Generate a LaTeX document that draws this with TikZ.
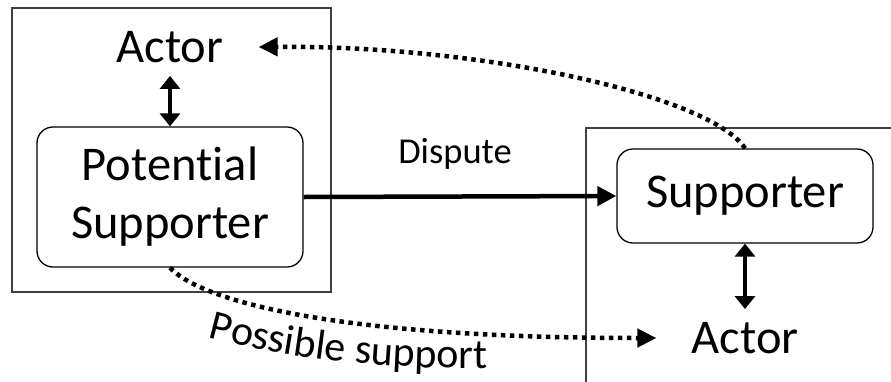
\documentclass[tikz,border=0pt]{standalone}
\usepackage{fontspec}
\setmainfont{Carlito}[Ligatures=CommonOff]
\usetikzlibrary{arrows.meta,decorations.text}

\newcommand\bigfont{\fontsize{48.5}{58}\selectfont}
\newcommand\midfont{\fontsize{36.5}{44}\selectfont}
\newcommand\possfont{\fontsize{42}{50}\selectfont}

\tikzset{
  frame/.style={draw=black!75, line width=1.6pt},
  agent/.style={draw, rounded corners=16pt, line width=1.3pt, align=center, font=\bigfont},
  actor/.style={font=\bigfont, inner xsep=35pt, inner ysep=13pt},
  twoway/.style={{Triangle[length=13pt,width=20pt]}-{Triangle[length=13pt,width=20pt]}, line width=3.8pt},
  maybe/.style={-{Triangle[length=19pt,width=18pt]}, line width=4.5pt, dash pattern=on 4.5pt off 4.5pt},
}

\begin{document}
\begin{tikzpicture}[x=1pt,y=-1pt]
	\useasboundingbox (0,0) rectangle (891,381);
	\clip (0,0) rectangle (891,381);

	% Frames
	\draw[frame] (12,8) rectangle (331,292);
	\draw[frame] (586,128) rectangle (900,390);

	% Left side
	\node[actor] (actorA) at (170,47) {Actor};
	\node[agent, minimum width=266pt, minimum height=140pt] (potsup) at (170,197) {Potential\\Supporter};

	% Right side
	\node[agent, minimum width=256pt, minimum height=94pt] (supp) at (745,196) {Supporter};
	\node[actor] (actorB) at (745,338) {Actor};

	% Links
	\draw[twoway] (actorA.south) -- (potsup.north);
	\draw[twoway] (supp.south) -- (actorB.north);
	\draw[-{Triangle[length=19pt,width=19pt]}, line width=4.5pt] (potsup.east) -- (supp.west)
		node[pos=0.484, above=22pt, font=\midfont] (disp) {Dispute};

	% Dotted curves
	\draw[maybe] (supp.north) .. controls (710,95) and (480,45) .. (actorA.east);
	\draw[maybe] (potsup.south) .. controls (200,300) and (330,338) .. (actorB.west);

	% Curved label
	\path[decorate, decoration={text along path, text={|\possfont|Possible support}, text align=left}]
		(208,337) .. controls (300,362) and (400,370) .. (505,368);

\end{tikzpicture}
\end{document}
